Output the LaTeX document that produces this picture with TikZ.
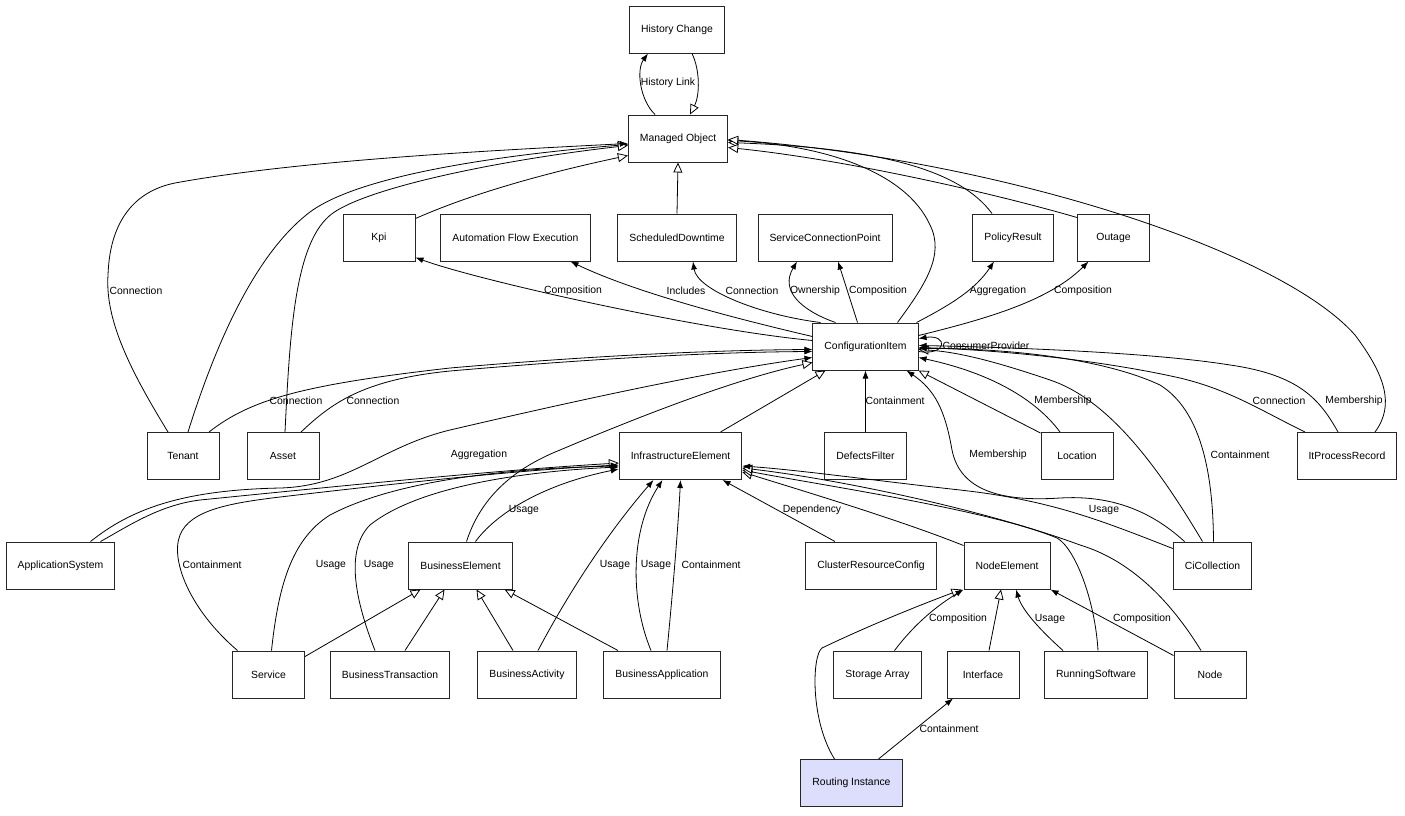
\documentclass[tikz,border=0pt]{standalone}
\usepackage{fontspec}
\setmainfont{Liberation Sans}
\usepackage{xcolor}
\usepackage{tikz}
\usetikzlibrary{arrows.meta}

\definecolor{routefill}{RGB}{221,221,252}

\begin{document}
\begin{tikzpicture}[x=1pt, y=-1pt, font=\fontsize{10.4}{12}\selectfont,
		cls/.style={draw=black!85, line width=1pt, minimum width=72pt, minimum height=47pt, inner xsep=11.5pt},
		lbl/.style={inner sep=0.5pt},
		assoc/.style={line width=0.8pt, -{Latex[length=8pt,width=6pt]}},
		inherit/.style={line width=0.8pt, -{Triangle[length=10pt,width=9pt,fill=white]}}]

		\useasboundingbox (0,0) rectangle (1405,815);

		\node[cls] (HC) at (677,29.5) {History Change};
		\node[cls] (MO) at (678,138.5) {Managed Object};

		\node[cls] (Kpi) at (379,237.5) {Kpi};
		\node[cls] (AFE) at (515.5,237.5) {Automation Flow Execution};
		\node[cls] (SD) at (677,237.5) {ScheduledDowntime};
		\node[cls] (SCP) at (825,237.5) {ServiceConnectionPoint};
		\node[cls] (PR) at (1013,237.5) {PolicyResult};
		\node[cls] (Out) at (1113.5,237.5) {Outage};

		\node[cls] (CI) at (865.5,346.5) {ConfigurationItem};

		\node[cls] (Tenant) at (183,456) {Tenant};
		\node[cls] (Asset) at (283,456) {Asset};
		\node[cls] (IE) at (680.5,456) {InfrastructureElement};
		\node[cls] (DF) at (865.5,456) {DefectsFilter};
		\node[cls] (Loc) at (1077,456) {Location};
		\node[cls] (IPR) at (1347,456) {ItProcessRecord};

		\node[cls] (AS) at (60.5,565.5) {ApplicationSystem};
		\node[cls] (BE) at (460.5,565.5) {BusinessElement};
		\node[cls] (CRC) at (871,565.5) {ClusterResourceConfig};
		\node[cls] (NE) at (1007,565.5) {NodeElement};
		\node[cls] (CiColl) at (1212.5,565.5) {CiCollection};

		\node[cls] (Service) at (268.5,674.5) {Service};
		\node[cls] (BT) at (390,674.5) {BusinessTransaction};
		\node[cls] (BA) at (527,674.5) {BusinessActivity};
		\node[cls] (BApp) at (662,674.5) {BusinessApplication};
		\node[cls] (SA) at (877.5,674.5) {Storage Array};
		\node[cls] (IF) at (983,674.5) {Interface};
		\node[cls] (RS) at (1096,674.5) {RunningSoftware};
		\node[cls] (Node) at (1210,674.5) {Node};

		\node[cls, fill=routefill] (RI) at (851.5,783) {Routing Instance};

		\begin{scope}[inherit]
			\draw ([xshift=15]HC.south) .. controls (700,70) and (700,95) .. ([xshift=12]MO.north);
			\draw (SD.north) -- (MO.south);
			\draw ([xshift=5]Tenant.north) .. controls (220,330) and (260,250) .. (310,212) .. controls (360,175) and (500,155) .. ([yshift=-6]MO.west);
			\draw ([xshift=2]Asset.north) .. controls (290,330) and (295,240) .. (333,213) .. controls (370,187) and (500,160) .. ([yshift=-7]MO.west);
			\draw ([yshift=19]Kpi.east) .. controls (480,190) and (560,170) .. ([yshift=-17]MO.west);
			\draw ([xshift=32]CI.north) .. controls (925,285) and (945,255) .. (930,225) .. controls (905,170) and (820,145) .. ([yshift=-2]MO.east);
			\draw ([xshift=-21]PR.north) .. controls (960,170) and (880,148) .. ([yshift=-4]MO.east);
			\draw ([yshift=20]Out.west) .. controls (1000,195) and (850,160) .. ([yshift=-9]MO.east);
			\draw ([xshift=28]IPR.north) .. controls (1395,405) and (1385,375) .. (1355,335) .. controls (1280,250) and (1000,160) .. ([yshift=-1]MO.east);

			\draw ([xshift=40]IE.north) -- ([xshift=-40]CI.south);
			\draw ([xshift=6]BE.north) .. controls (480,500) and (510,470) .. (560,450) .. controls (650,412) and (740,378) .. ([yshift=-16]CI.west);
			\draw ([yshift=23]Loc.west) -- (CI.south east);
			\draw ([xshift=-10]CiColl.north) .. controls (1160,470) and (1110,400) .. (1050,380) .. controls (1000,363) and (960,352) .. ([yshift=-3]CI.east);

			\draw ([xshift=40]AS.north) .. controls (130,525) and (160,505) .. (200,500) .. controls (350,485) and (500,470) .. ([yshift=-7]IE.west);
			\draw ([yshift=20]NE.west) .. controls (900,520) and (800,490) .. ([yshift=-16]IE.east);
			\draw ([xshift=2]RS.north) .. controls (1095,600) and (1075,548) .. (1057,538) .. controls (990,510) and (820,485) .. ([yshift=-14]IE.east);
			\draw ([xshift=-9]Node.north) .. controls (1170,600) and (1130,560) .. (1080,545) .. controls (980,508) and (830,478) .. ([yshift=-12]IE.east);

			\draw ([yshift=18]Service.east) -- ([xshift=-40]BE.south);
			\draw ([xshift=15]BT.north) -- ([xshift=-16]BE.south);
			\draw ([xshift=-14]BA.north) -- ([xshift=16]BE.south);
			\draw ([xshift=-44]BApp.north) -- ([xshift=-8]BE.south east);

			\draw ([xshift=-17]RI.north) .. controls (810,720) and (812,655) .. (822,648) .. controls (870,625) and (920,605) .. ([xshift=-2]NE.south west);
			\draw ([xshift=6]IF.north) -- ([xshift=-6]NE.south);
		\end{scope}

		\begin{scope}[assoc]
			\draw ([xshift=-23]MO.north) .. controls (640,100) and (636,70) .. ([xshift=-29]HC.south);
			\draw ([xshift=-15]Tenant.north) .. controls (130,370) and (105,320) .. (108,275) .. controls (110,215) and (140,190) .. (175,183) .. controls (300,160) and (500,150) .. ([yshift=-5]MO.west);

			\draw ([yshift=6]CI.west) .. controls (700,330) and (480,281) .. ([yshift=-20]Kpi.east);
			\draw ([yshift=10]CI.west) .. controls (720,315) and (630,290) .. ([xshift=55]AFE.south);
			\draw ([xshift=-45]CI.north) .. controls (760,315) and (697,290) .. ([xshift=16]SD.south);
			\draw ([xshift=-30]CI.north) .. controls (800,310) and (780,290) .. ([xshift=-28]SCP.south);
			\draw ([xshift=-8]CI.north) -- ([xshift=13]SCP.south);
			\draw ([xshift=51]CI.north) .. controls (950,305) and (975,290) .. ([xshift=-19]PR.south);
			\draw ([yshift=11]CI.east) .. controls (990,318) and (1050,300) .. ([xshift=-25]Out.south);
			\draw ([yshift=-5]CI.east) .. controls (948,356) and (948,334) .. ([yshift=8]CI.east);

			\draw ([xshift=26]Tenant.north) .. controls (250,400) and (300,385) .. (450,368) .. controls (600,355) and (720,350) .. ([yshift=-3]CI.west);
			\draw ([xshift=18]Asset.north) .. controls (330,405) and (360,380) .. (450,371) .. controls (600,358) and (720,352) .. ([yshift=-5]CI.west);
			\draw ([xshift=30]AS.north) .. controls (130,510) and (180,490) .. (280,488) .. controls (350,486) and (380,447) .. (450,430) .. controls (600,395) and (720,370) .. ([yshift=-11]CI.west);
			\draw (DF.north) -- (CI.south);
			\draw ([xshift=-17]Loc.north) .. controls (1040,405) and (1000,375) .. ([yshift=-11]CI.east);
			\draw ([xshift=-28]CiColl.north) .. controls (1150,510) and (1110,495) .. (1060,498) .. controls (1000,502) and (960,490) .. (952,450) .. controls (945,410) and (935,390) .. ([xshift=41]CI.south);
			\draw ([xshift=1]CiColl.north) .. controls (1213,470) and (1200,410) .. (1160,385) .. controls (1100,357) and (1000,348) .. ([yshift=-2]CI.east);
			\draw ([xshift=-42]IPR.north) .. controls (1260,410) and (1230,390) .. (1180,378) .. controls (1100,360) and (1000,350) .. ([yshift=-1]CI.east);
			\draw ([xshift=-9]IPR.north) .. controls (1320,400) and (1300,375) .. (1230,365) .. controls (1150,352) and (1000,347) .. ([yshift=1]CI.east);

			\draw ([xshift=-31]Service.north) .. controls (190,610) and (170,560) .. (180,535) .. controls (190,510) and (230,503) .. (280,497) .. controls (400,483) and (520,470) .. ([yshift=-9]IE.west);
			\draw ([xshift=3]Service.north) .. controls (278,590) and (290,540) .. (330,515) .. controls (400,478) and (520,468) .. ([yshift=-10]IE.west);
			\draw ([xshift=-15]BT.north) .. controls (355,600) and (345,550) .. (370,525) .. controls (420,485) and (530,471) .. ([yshift=-11]IE.west);
			\draw ([xshift=15]BE.north) .. controls (495,515) and (540,485) .. ([yshift=-13]IE.west);
			\draw ([xshift=11]BA.north) .. controls (570,590) and (610,530) .. ([xshift=-27]IE.south);
			\draw ([xshift=-11]BApp.north) .. controls (630,600) and (630,530) .. ([xshift=-18]IE.south);
			\draw ([xshift=5]BApp.north) .. controls (672,600) and (678,530) .. (IE.south);
			\draw ([xshift=-36]CRC.north) -- ([xshift=42]IE.south);
			\draw ([yshift=17]CiColl.west) .. controls (1100,520) and (1050,500) .. (960,490) .. controls (870,480) and (800,470) .. ([yshift=-10]IE.east);

			\draw ([xshift=17]SA.north) .. controls (910,630) and (930,610) .. (NE.south west);
			\draw ([xshift=-33]RS.north) .. controls (1040,630) and (1022,610) .. ([xshift=9]NE.south);
			\draw ([yshift=19]Node.west) -- (NE.south east);
			\draw ([xshift=27]RI.north) -- ([xshift=-30]IF.south);
		\end{scope}

		\node[lbl] (lHist) at (668,83) {History Link};
		\node[lbl] (lTenMO) at (136,291) {Connection};
		\node[lbl] (lKpi) at (573,291) {Composition};
		\node[lbl] (lAFE) at (686,291) {Includes};
		\node[lbl] (lSD) at (752,291) {Connection};
		\node[lbl] (lOwn) at (815,291) {Ownership};
		\node[lbl] (lSCP) at (878,291) {Composition};
		\node[lbl] (lPR) at (998,291) {Aggregation};
		\node[lbl] (lOut) at (1083,291) {Composition};
		\node[lbl] (lLoop) at (986,346) {ConsumerProvider};
		\node[lbl] (lTenCI) at (296,401) {Connection};
		\node[lbl] (lAssetCI) at (373,401) {Connection};
		\node[lbl] (lDF) at (895,401) {Containment};
		\node[lbl] (lLocCI) at (1063,401) {Membership};
		\node[lbl] (lIPRConn) at (1279,401) {Connection};
		\node[lbl] (lIPRMemb) at (1354,401) {Membership};
		\node[lbl] (lAS) at (479,455) {Aggregation};
		\node[lbl] (lCiMemb) at (998,455) {Membership};
		\node[lbl] (lCiCont) at (1240,455) {Containment};
		\node[lbl] (lBEUse) at (524,510) {Usage};
		\node[lbl] (lCRC) at (812,510) {Dependency};
		\node[lbl] (lCiUse) at (1104,510) {Usage};
		\node[lbl] (lSvcCont) at (212,565) {Containment};
		\node[lbl] (lSvcUse) at (331,565) {Usage};
		\node[lbl] (lBTUse) at (379,565) {Usage};
		\node[lbl] (lBAUse) at (615,565) {Usage};
		\node[lbl] (lBAppUse) at (656,565) {Usage};
		\node[lbl] (lBAppCont) at (711,565) {Containment};
		\node[lbl] (lSA) at (958,619) {Composition};
		\node[lbl] (lRS) at (1050,619) {Usage};
		\node[lbl] (lNode) at (1142,619) {Composition};
		\node[lbl] (lRI) at (949,729) {Containment};
	\end{tikzpicture}
\end{document}
